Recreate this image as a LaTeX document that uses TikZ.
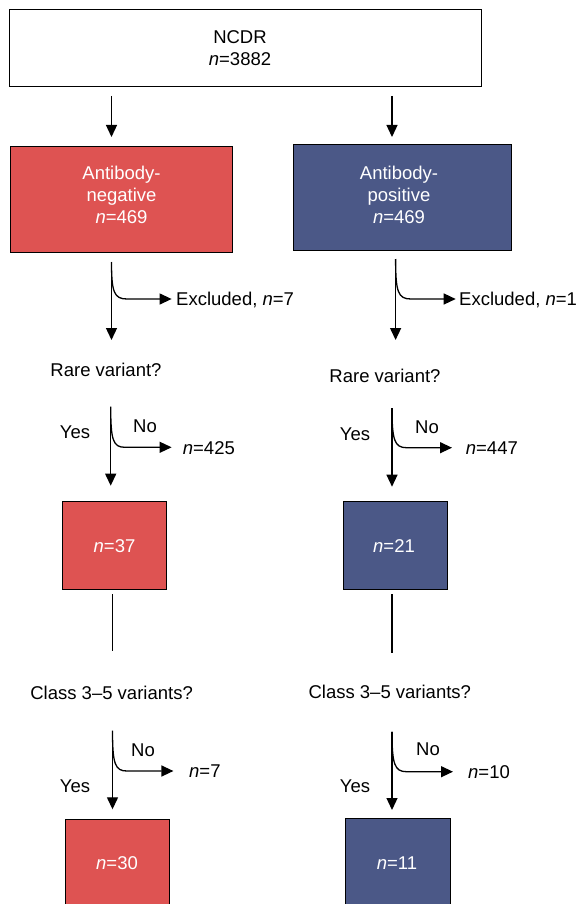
\documentclass[tikz,border=0pt]{standalone}
\usepackage{fontspec}
\setmainfont{Liberation Sans}
\usetikzlibrary{arrows.meta}
\definecolor{negred}{RGB}{222,83,82}
\definecolor{posblue}{RGB}{75,88,135}
\begin{document}
\begin{tikzpicture}[x=1pt,y=-1pt,
  box/.style={draw=black, line width=1pt, inner sep=0pt},
  redbox/.style={box, fill=negred},
  bluebox/.style={box, fill=posblue},
  lbl/.style={font=\fontsize{18.5}{22}\selectfont, inner sep=0pt, align=center},
  wlbl/.style={lbl, text=white},
  arr/.style={line width=1.3pt, -{Triangle[length=12pt,width=11pt]}},
  ln/.style={line width=1.4pt}]
\useasboundingbox (0,0) rectangle (576,904);
\clip (0,0) rectangle (576,904);
% boxes
\node[box, minimum width=472pt, minimum height=77pt] (ncdr) at (245,48.5) {};
\node[redbox, minimum width=222pt, minimum height=106pt] (neg) at (121.4,199.9) {};
\node[bluebox, minimum width=218pt, minimum height=106pt] (pos) at (402,197.7) {};
\node[redbox, minimum width=104pt, minimum height=88pt] (neg2) at (114.9,545.2) {};
\node[bluebox, minimum width=104.6pt, minimum height=88pt] (pos2) at (395.3,545.9) {};
\node[redbox, minimum width=104pt, minimum height=88pt] (neg3) at (117.7,863) {};
\node[bluebox, minimum width=104.6pt, minimum height=88pt] (pos3) at (398.2,862.3) {};
% box texts
\node[lbl] (ncdrt) at (240,48) {NCDR\\\textit{n}=3882};
\node[wlbl] (negt) at (121.5,195) {Antibody-\\negative\\\textit{n}=469};
\node[wlbl] (post) at (399,195) {Antibody-\\positive\\\textit{n}=469};
\node[wlbl] (neg2t) at (114.5,546) {\textit{n}=37};
\node[wlbl] (pos2t) at (394,546) {\textit{n}=21};
\node[wlbl] (neg3t) at (117,863) {\textit{n}=30};
\node[wlbl] (pos3t) at (397,863) {\textit{n}=11};
% labels
\node[lbl, anchor=west] (exL) at (176,300) {Excluded, \textit{n}=7};
\node[lbl, anchor=west] (exR) at (459,300) {Excluded, \textit{n}=1};
\node[lbl] (rvL) at (106,370) {Rare variant?};
\node[lbl] (rvR) at (385,375.7) {Rare variant?};
\node[lbl] (yes1L) at (75,432.7) {Yes};
\node[lbl] (no1L) at (145,426.7) {No};
\node[lbl, anchor=west] (r1L) at (182.7,448.3) {\textit{n}=425};
\node[lbl] (yes1R) at (355,434) {Yes};
\node[lbl] (no1R) at (427,427) {No};
\node[lbl, anchor=west] (r1R) at (465.7,448) {\textit{n}=447};
\node[lbl] (cvL) at (111.6,692.7) {Class 3--5 variants?};
\node[lbl] (cvR) at (389.8,691.7) {Class 3--5 variants?};
\node[lbl] (yes2L) at (75,786) {Yes};
\node[lbl] (no2L) at (143,750) {No};
\node[lbl, anchor=west] (r2L) at (189,771) {\textit{n}=7};
\node[lbl] (yes2R) at (355,786) {Yes};
\node[lbl] (no2R) at (428,749) {No};
\node[lbl, anchor=west] (r2R) at (468,771.7) {\textit{n}=10};
% coordinates
\coordinate (t1s) at (111.5,96);   \coordinate (t1e) at (111.5,137);
\coordinate (t2s) at (392,96);     \coordinate (t2e) at (392,137);
\coordinate (e1s) at (111.5,262);  \coordinate (e1e) at (111.5,340);
\coordinate (e2s) at (395.6,259);  \coordinate (e2e) at (395.6,340);
\coordinate (d1s) at (110.7,406.7); \coordinate (d1e) at (110.7,485.7);
\coordinate (d2s) at (392,408);    \coordinate (d2e) at (392,486.7);
\coordinate (l1s) at (112.5,594);  \coordinate (l1e) at (112.5,650.7);
\coordinate (l2s) at (392,594);    \coordinate (l2e) at (392,652.7);
\coordinate (c1s) at (112.5,730.7); \coordinate (c1e) at (112.5,809.3);
\coordinate (c2s) at (392,731.7);  \coordinate (c2e) at (392,810);
% connectors
\draw[arr] (t1s) -- (t1e);
\draw[arr] (t2s) -- (t2e);
\draw[arr] (e1s) -- (e1e);
\draw[arr] (e1s) .. controls (111.5,292) and (114,299) .. (127,299) -- (171.6,299);
\draw[arr] (e2s) -- (e2e);
\draw[arr] (e2s) .. controls (395.6,292) and (398,299) .. (411,299) -- (455.7,299);
\draw[arr] (d1s) -- (d1e);
\draw[arr] (d1s) .. controls (110.7,440) and (113,447.3) .. (125,447.3) -- (171.6,447.3);
\draw[arr] (d2s) -- (d2e);
\draw[arr] (d2s) .. controls (392,440) and (394.5,447.7) .. (406.5,447.7) -- (452,447.7);
\draw[ln] (l1s) -- (l1e);
\draw[ln] (l2s) -- (l2e);
\draw[arr] (c1s) -- (c1e);
\draw[arr] (c1s) .. controls (112.5,764) and (115,771) .. (127,771) -- (173.4,771);
\draw[arr] (c2s) -- (c2e);
\draw[arr] (c2s) .. controls (392,764) and (394.5,771.7) .. (406.5,771.7) -- (453,771.7);
\end{tikzpicture}
\end{document}
